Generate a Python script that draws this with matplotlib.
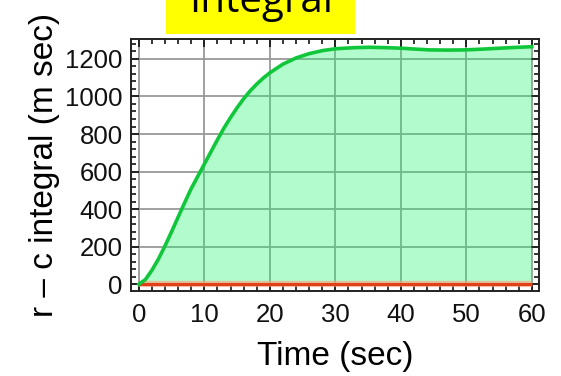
import matplotlib
matplotlib.use("Agg")
import matplotlib.pyplot as plt
from matplotlib.ticker import MultipleLocator
from matplotlib.patches import Rectangle

# Data
time = [0, 1, 2, 3, 4, 5, 6, 7, 8, 9, 10, 11, 12, 13, 14, 15, 16, 17, 18, 19,
        20, 22, 24, 26, 28, 30, 33, 35.3, 37.7, 40.1, 42.3, 44.4, 47.1, 49.8,
        52.4, 55.1, 57.4, 60.0]
integral = [0, 25, 75, 135, 205, 280, 358, 435, 510, 575, 640, 705, 770, 832,
            888, 940, 988, 1030, 1066, 1098, 1126, 1172, 1205, 1228, 1244, 1254,
            1260, 1262, 1260, 1257, 1252, 1248, 1247, 1248, 1252, 1257, 1261, 1265]
zero_line = [0, 0]
zero_t = [0, 60]

xticks = [0, 10, 20, 30, 40, 50, 60]
yticks = [0, 200, 400, 600, 800, 1000, 1200]

W, H, DPI = 561, 376, 100
fig = plt.figure(figsize=(W / DPI, H / DPI), dpi=DPI)
fig.patch.set_facecolor("white")

ax = fig.add_axes([131 / W, 1 - 291 / H, (539 - 131) / W, (291 - 39) / H])

ax.set_xlim(-1.2, 61.1)
ax.set_ylim(-36, 1306)

ax.grid(True, color="#999999", linewidth=1.3, zorder=0)
ax.set_axisbelow(True)

ax.fill_between(time, integral, 0, color=(35 / 255, 246 / 255, 109 / 255), alpha=0.35,
                linewidth=0, zorder=1)
ax.plot(zero_t, zero_line, color="#ff9977", linewidth=4.5, alpha=0.6, zorder=2,
        solid_capstyle="butt")
ax.plot(zero_t, zero_line, color="#e0401a", linewidth=2.2, zorder=3,
        solid_capstyle="butt")
ax.plot(time, integral, color="#10c63a", linewidth=2.6, zorder=4,
        solid_joinstyle="round")

ax.set_xticks(xticks)
ax.set_yticks(yticks)
ax.xaxis.set_minor_locator(MultipleLocator(2))
ax.yaxis.set_minor_locator(MultipleLocator(40))
ax.tick_params(which="both", direction="in", top=True, right=True,
               color="black", width=1.1)
ax.tick_params(which="major", length=6)
ax.tick_params(which="minor", length=3.5)
for s in ax.spines.values():
    s.set_color("#222222")
    s.set_linewidth(1.4)

font = "Liberation Sans"
for lbl in ax.get_xticklabels() + ax.get_yticklabels():
    lbl.set_fontfamily(font)
    lbl.set_fontsize(18.5)
    lbl.set_color("#111111")
ax.tick_params(axis="x", pad=9)
ax.tick_params(axis="y", pad=6)

ax.set_xlabel("Time (sec)", fontfamily=font, fontsize=24, labelpad=10)
ax.set_ylabel("r \u2013 c integral (m sec)", fontfamily=font, fontsize=24, labelpad=4)

# Yellow title box, clipped at the top of the figure
fig.patches.append(Rectangle((166 / W, 1 - 34 / H), (355 - 166) / W, 34 / H + 0.01,
                             transform=fig.transFigure, facecolor="#ffff00",
                             edgecolor="none"))
fig.text((190 + 333) / 2 / W, 1 - 12 / H, "Integral", fontfamily="Open Sans",
         fontsize=29, ha="center", va="baseline", color="black")

fig.savefig("out.png", dpi=DPI)
